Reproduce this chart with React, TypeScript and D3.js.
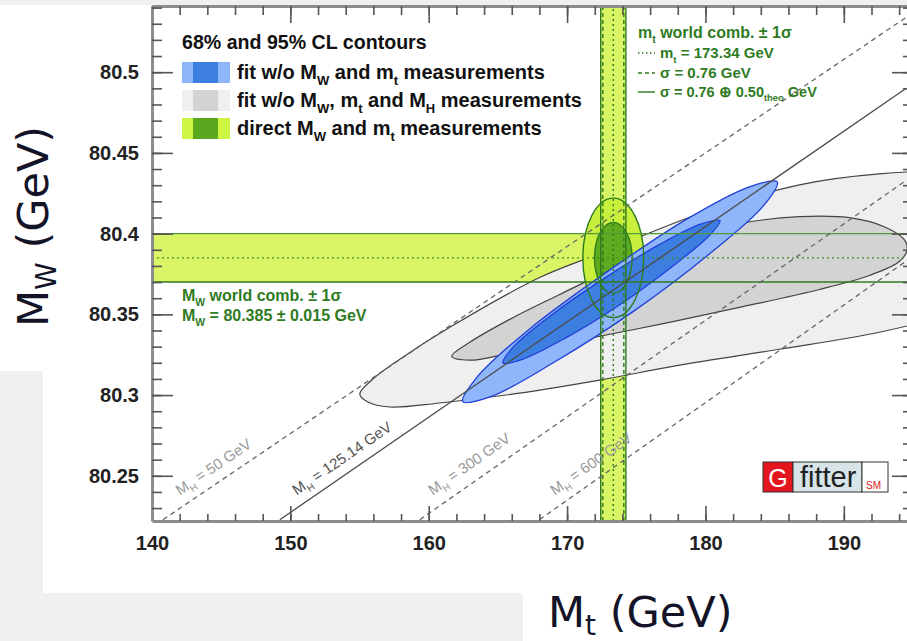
import React, { useEffect, useRef } from "react";
import * as d3 from "d3";

const width = 907;
const height = 641;

// axis ranges and labelled ticks
const mtRange: [number, number] = [140, 195];
const mwRange: [number, number] = [80.222, 80.541];
const mtMajor = [140, 150, 160, 170, 180, 190];
const mwMajor = [80.25, 80.3, 80.35, 80.4, 80.45, 80.5];

// direct world-average measurements
const mtWorld = 173.34;
const mtSigmaExp = 0.76;
const mtSigmaTot = 0.91; // 0.76 (+) 0.50 theo
const mwWorld = 80.385;
const mwSigma = 0.015;

// direct 2D contours, half widths [68%, 95%]
const directHalfMt = [1.36, 2.2];
const directHalfMw = [0.022, 0.037];

// fit w/o MW, mt and MH (gray)
const grayOuter: [number, number][] = [
  [155.02, 80.3006], [155.88, 80.3093], [157.91, 80.3222], [161.52, 80.342],
  [168.01, 80.3728], [172.35, 80.3877], [179.57, 80.4123], [186.79, 80.4302],
  [192.56, 80.437], [198.34, 80.4383], [203.39, 80.4302], [206.28, 80.4086],
  [204.12, 80.3747], [198.34, 80.3519], [192.56, 80.3389], [185.34, 80.3284],
  [178.12, 80.3185], [172.35, 80.3093], [166.57, 80.3012], [160.79, 80.2951],
  [157.18, 80.2926], [155.6, 80.2957],
];
const grayInner: [number, number][] = [
  [161.66, 80.3241], [162.96, 80.3327], [165.85, 80.3469], [169.46, 80.3623],
  [173.79, 80.3802], [178.12, 80.3963], [182.45, 80.4062], [186.79, 80.4105],
  [190.4, 80.4099], [192.92, 80.4043], [194.37, 80.3963], [194.58, 80.3901],
  [194.01, 80.3827], [191.84, 80.3741], [188.23, 80.3654], [182.45, 80.3543],
  [176.68, 80.3438], [170.9, 80.334], [165.85, 80.3259], [162.96, 80.3216],
];

// fit w/o MW and mt (blue)
const blueOuter: [number, number][] = [
  [185.19, 80.432], [184.17, 80.417], [180.37, 80.388], [174.82, 80.352],
  [169.0, 80.32], [164.48, 80.299], [162.46, 80.296], [163.48, 80.311],
  [167.29, 80.341], [172.83, 80.376], [178.65, 80.409], [183.18, 80.429],
];
const blueInner: [number, number][] = [
  [181.05, 80.408], [180.3, 80.399], [177.65, 80.38], [173.81, 80.356],
  [169.81, 80.335], [166.72, 80.322], [165.37, 80.32], [166.13, 80.33],
  [168.77, 80.349], [172.62, 80.372], [176.62, 80.393], [179.7, 80.406],
];

// SM prediction lines for fixed MH
const mhValues = ["50", "125.14", "300", "600"];
const mhLines: [number, number][][] = [
  [[140.79, 80.2228], [194.51, 80.534]],
  [[149.24, 80.2228], [194.51, 80.49]],
  [[159.35, 80.2228], [194.51, 80.433]],
  [[168.01, 80.2228], [194.51, 80.383]],
];
const mhLabelAt: [number, number][] = [
  [142.02, 80.2377], [150.47, 80.2377], [160.29, 80.2377], [169.1, 80.2377],
];

const legendTitle = "68% and 95% CL contours";
const legendLabels = [
  "fit w/o M_{W} and m_{t} measurements",
  "fit w/o M_{W}, m_{t} and M_{H} measurements",
  "direct M_{W} and m_{t} measurements",
];
const legendColors = [
  ["#8fb5fa", "#3c7fe0"],
  ["#efefef", "#d3d3d3"],
  ["#cdf541", "#5aa81e"],
];

const boldFont = "'Liberation Sans', Arial, sans-serif";
const titleFont = "'DejaVu Sans', sans-serif";
const green = "#2f7b1f";

function rich(t: any, str: string, fs: number, shift = 0.3) {
  const parts = str.split(/(_\{[^}]*\})/).filter((p) => p.length);
  let down = false;
  parts.forEach((p) => {
    if (p.startsWith("_{")) {
      t.append("tspan").attr("dy", fs * shift).attr("font-size", fs * 0.65).text(p.slice(2, -1));
      down = true;
    } else {
      const s = t.append("tspan").text(p);
      if (down) s.attr("dy", -fs * shift);
      down = false;
    }
  });
}

export default function App() {
  const svgRef = useRef<SVGSVGElement>(null);

  useEffect(() => {
    const svg = d3.select(svgRef.current);
    svg.selectAll("*").remove();

    const x = d3.scaleLinear().domain(mtRange).range([152, 913]);
    const y = d3.scaleLinear().domain(mwRange).range([521, 6]);
    const [x0, x1] = x.range();
    const [y0, y1] = y.range();

    // page background (screenshot patches)
    svg.append("rect").attr("width", width).attr("height", height).attr("fill", "#f0f0f0");
    svg.append("rect").attr("x", 43).attr("y", 5).attr("width", width - 43).attr("height", 588).attr("fill", "#fff");
    svg.append("rect").attr("x", 0).attr("y", 5).attr("width", 43).attr("height", 366).attr("fill", "#fff");
    svg.append("rect").attr("x", 523).attr("y", 593).attr("width", width - 523).attr("height", 48).attr("fill", "#fff");

    svg.append("clipPath").attr("id", "plotArea")
      .append("rect").attr("x", x0).attr("y", y1).attr("width", x1 - x0).attr("height", y0 - y1);

    const g = svg.append("g").attr("clip-path", "url(#plotArea)");

    // yellow 1 sigma bands
    g.append("rect").attr("x", x0).attr("width", x1 - x0)
      .attr("y", y(mwWorld + mwSigma)).attr("height", y(mwWorld - mwSigma) - y(mwWorld + mwSigma))
      .attr("fill", "#d9f464");
    g.append("rect").attr("y", y1).attr("height", y0 - y1)
      .attr("x", x(mtWorld - mtSigmaTot)).attr("width", x(mtWorld + mtSigmaTot) - x(mtWorld - mtSigmaTot))
      .attr("fill", "#d9f464");

    const contour = d3.line<[number, number]>()
      .x((d) => x(d[0]))
      .y((d) => y(d[1]))
      .curve(d3.curveCatmullRomClosed.alpha(0.5));

    g.append("path").attr("d", contour(grayOuter)).attr("fill", "#efefef").attr("stroke", "#444").attr("stroke-width", 1.2);
    g.append("path").attr("d", contour(grayInner)).attr("fill", "#d3d3d3").attr("stroke", "#444").attr("stroke-width", 1.2);

    // direct measurement ellipses (fill)
    const ell = (i: number) =>
      g.append("ellipse")
        .attr("cx", x(mtWorld)).attr("cy", y(mwWorld))
        .attr("rx", x(mtWorld + directHalfMt[i]) - x(mtWorld))
        .attr("ry", y(mwWorld) - y(mwWorld + directHalfMw[i]));
    ell(1).attr("fill", "#c8ef3c");
    ell(0).attr("fill", "#5fab20");

    g.append("path").attr("d", contour(blueOuter)).attr("fill", "#8fb5fa").attr("stroke", "#1f3fd8").attr("stroke-width", 1.3);
    g.append("path").attr("d", contour(blueInner)).attr("fill", "#3c7fe0").attr("stroke", "#1f3fd8").attr("stroke-width", 1.3);

    ell(1).attr("fill", "none").attr("stroke", green).attr("stroke-width", 1.4);
    ell(0).attr("fill", "none").attr("stroke", green).attr("stroke-width", 1.4);

    // band edges
    const hLine = (v: number, dash: string | null, col: string) =>
      g.append("line").attr("x1", x0).attr("x2", x1).attr("y1", y(v)).attr("y2", y(v))
        .attr("stroke", col).attr("stroke-width", 1.4).attr("stroke-dasharray", dash);
    hLine(mwWorld + mwSigma, null, "#4f9a3a");
    hLine(mwWorld - mwSigma, null, green);
    hLine(mwWorld, "2,3", "#3f8f2a");

    const vLine = (v: number, dash: string | null) =>
      g.append("line").attr("y1", y0).attr("y2", y1).attr("x1", x(v)).attr("x2", x(v))
        .attr("stroke", green).attr("stroke-width", 1.4).attr("stroke-dasharray", dash);
    vLine(mtWorld - mtSigmaTot, null);
    vLine(mtWorld + mtSigmaTot, null);
    vLine(mtWorld - mtSigmaExp, "4,3");
    vLine(mtWorld + mtSigmaExp, "4,3");
    vLine(mtWorld, "2,3");

    // SM lines for fixed MH
    const straight = d3.line<[number, number]>().x((d) => x(d[0])).y((d) => y(d[1]));
    mhLines.forEach((pts, i) => {
      g.append("path").attr("d", straight(pts)).attr("fill", "none")
        .attr("stroke", i === 1 ? "#4a4a4a" : "#666").attr("stroke-width", 1.3)
        .attr("stroke-dasharray", i === 1 ? null : "5,4");
      const ang = (Math.atan2(y(pts[1][1]) - y(pts[0][1]), x(pts[1][0]) - x(pts[0][0])) * 180) / Math.PI;
      const t = g.append("text")
        .attr("transform", `translate(${x(mhLabelAt[i][0])},${y(mhLabelAt[i][1])}) rotate(${ang})`)
        .attr("font-family", boldFont).attr("font-size", 15)
        .attr("fill", i === 1 ? "#555" : "#9a9a9a")
        .style("white-space", "pre");
      rich(t, `M_{H} = ${mhValues[i]} GeV`, 15);
    });

    // frame and ticks
    const minorMt = d3.range(mtRange[0], mtRange[1], 2);
    const minorMw = d3.ticks(mwRange[0], mwRange[1], 30);
    const fmtMw = d3.format(".2~f");

    const styleAxis = (a: any) => {
      a.select(".domain").attr("stroke", "#8c8c8c").attr("stroke-width", 3);
      a.selectAll(".tick line").attr("stroke", "#555").attr("stroke-width", 1.6);
      a.selectAll("text").attr("font-family", boldFont).attr("font-weight", "bold")
        .attr("font-size", 20).attr("fill", "#222");
    };

    const bottom = svg.append("g").attr("transform", `translate(0,${y0})`);
    bottom.call(d3.axisBottom(x).tickValues(minorMt).tickSize(-7).tickSizeOuter(0).tickFormat(() => ""));
    bottom.append("g").call(d3.axisBottom(x).tickValues(mtMajor).tickSize(-15).tickSizeOuter(0).tickPadding(15))
      .select(".domain").remove();
    styleAxis(bottom);

    const top = svg.append("g").attr("transform", `translate(0,${y1})`);
    top.call(d3.axisTop(x).tickValues(minorMt).tickSize(-9).tickSizeOuter(0).tickFormat(() => ""));
    top.append("g").call(d3.axisTop(x).tickValues(mtMajor).tickSize(-17).tickFormat(() => ""))
      .select(".domain").remove();
    styleAxis(top);

    const left = svg.append("g").attr("transform", `translate(${x0},0)`);
    left.call(d3.axisLeft(y).tickValues(minorMw).tickSize(-10).tickSizeOuter(0).tickFormat(() => ""));
    left.append("g").call(d3.axisLeft(y).tickValues(mwMajor).tickSize(-21).tickSizeOuter(0).tickPadding(13).tickFormat(fmtMw))
      .select(".domain").remove();
    styleAxis(left);

    const right = svg.append("g").attr("transform", `translate(${x1},0)`);
    right.call(d3.axisRight(y).tickValues(minorMw).tickSize(-10).tickSizeOuter(0).tickFormat(() => ""));
    right.append("g").call(d3.axisRight(y).tickValues(mwMajor).tickSize(-21).tickFormat(() => ""))
      .select(".domain").remove();
    styleAxis(right);

    // legend (top left)
    svg.append("text").attr("x", 182).attr("y", 49).attr("font-family", boldFont)
      .attr("font-weight", "bold").attr("font-size", 19.6).attr("fill", "#111").text(legendTitle);
    legendLabels.forEach((lab, i) => {
      const ry = 62 + i * 28;
      svg.append("rect").attr("x", 182).attr("y", ry).attr("width", 48).attr("height", 21).attr("fill", legendColors[i][0]);
      svg.append("rect").attr("x", 193).attr("y", ry).attr("width", 25).attr("height", 21).attr("fill", legendColors[i][1]);
      const t = svg.append("text").attr("x", 237).attr("y", ry + 17).attr("font-family", boldFont)
        .attr("font-weight", "bold").attr("font-size", 20).attr("fill", "#111").style("white-space", "pre");
      rich(t, lab, 20);
    });

    // mt annotation (top right)
    const note = (tx: number, ty: number, str: string, fs = 15.5) => {
      const t = svg.append("text").attr("x", tx).attr("y", ty).attr("font-family", boldFont)
        .attr("font-weight", "bold").attr("font-size", fs).attr("fill", green).style("white-space", "pre");
      rich(t, str, fs);
    };
    note(638, 38, "m_{t} world comb. ± 1σ", 16);
    note(660, 58, `m_{t} = ${mtWorld} GeV`, 15);
    note(660, 78, `σ = ${mtSigmaExp} GeV`, 15);
    note(660, 97, `σ = ${mtSigmaExp} ⊕ 0.50_{theo} GeV`, 14.5);
    [[58, "1.5,2.5"], [78, "4,3"], [97, null]].forEach(([ly, dash]) => {
      svg.append("line").attr("x1", 638).attr("x2", 655).attr("y1", (ly as number) - 5).attr("y2", (ly as number) - 5)
        .attr("stroke", green).attr("stroke-width", 1.4).attr("stroke-dasharray", dash as string | null);
    });

    // MW annotation
    note(182, 301, "M_{W} world comb. ± 1σ", 16);
    note(182, 321, `M_{W} = ${mwWorld} ± ${mwSigma} GeV`, 16);

    // Gfitter logo
    const logo = svg.append("g").attr("transform", "translate(763,462)");
    logo.append("rect").attr("width", 30).attr("height", 30).attr("fill", "#e3161d").attr("stroke", "#333");
    logo.append("text").attr("x", 15).attr("y", 25).attr("text-anchor", "middle").attr("font-family", boldFont)
      .attr("font-size", 25).attr("fill", "#fff").text("G");
    logo.append("rect").attr("x", 30).attr("width", 69).attr("height", 30).attr("fill", "#d7e5e9").attr("stroke", "#333");
    logo.append("text").attr("x", 37).attr("y", 25).attr("font-family", boldFont)
      .attr("font-size", 29).attr("fill", "#222").text("fitter");
    logo.append("rect").attr("x", 99).attr("width", 26).attr("height", 30).attr("fill", "#fff").attr("stroke", "#333");
    logo.append("text").attr("x", 103).attr("y", 27).attr("font-family", boldFont)
      .attr("font-size", 10).attr("fill", "#e3161d").text("SM");

    // axis titles
    const xt = svg.append("text").attr("x", 548).attr("y", 627).attr("font-family", titleFont)
      .attr("font-size", 43).attr("fill", "#141428").style("white-space", "pre");
    rich(xt, "M_{t} (GeV)", 43, 0.18);
    const yt = svg.append("text").attr("transform", "translate(48,327) rotate(-90)").attr("font-family", titleFont)
      .attr("font-size", 43).attr("fill", "#141428").style("white-space", "pre");
    rich(yt, "M_{W} (GeV)", 43, 0.18);
  }, []);

  return (
    <svg
      ref={svgRef}
      width={width}
      height={height}
      style={{ position: "absolute", left: 0, top: 0, display: "block" }}
    />
  );
}
